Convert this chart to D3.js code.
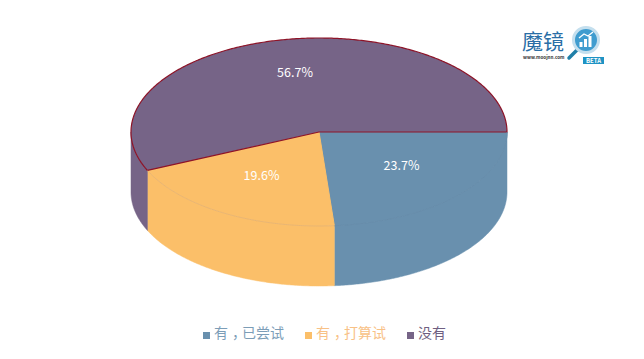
<!DOCTYPE html>
<html>
<head>
<meta charset="utf-8">
<script src="https://d3js.org/d3.v7.min.js"></script>
<style>
  html, body { margin: 0; padding: 0; background: #fff; }
  svg { display: block; }
  text { font-family: "Noto Sans CJK SC", "Noto Sans", sans-serif; }
</style>
</head>
<body>
<script>
// data, in drawing order from 3 o'clock going clockwise
var categories = ["有，已尝试", "有，打算试", "没有"];
var percents = [23.7, 19.6, 56.7];
var colours = ["#6990ae", "#fbbf69", "#766487"];
var legendColours = ["#7c9db7", "#f8c186", "#6f5f81"];
var seamColours = ["#648aa8", "#dcae78", "none"];

var width = 644, height = 359;
var cx = 319, cy = 132, rx = 188, ry = 94, depth = 60;

var svg = d3.select("body").append("svg")
  .attr("width", width)
  .attr("height", height);

var pie = d3.pie().sort(null).startAngle(Math.PI / 2).endAngle(Math.PI * 2.5);
var slices = pie(percents);

// flattened disc: angles are measured clockwise from north like d3.arc
var xAt = function(a) { return cx + rx * Math.sin(a); };
var yAt = function(a) { return cy - ry * Math.cos(a); };

var line = d3.line().x(function(d) { return d[0]; }).y(function(d) { return d[1]; });

// only the part of a slice under the front half of the rim has a wall
function wallPath(d) {
  var a0 = Math.max(d.startAngle, Math.PI / 2);
  var a1 = Math.min(d.endAngle, Math.PI * 1.5);
  if (a1 <= a0) return null;
  var steps = d3.range(a0, a1, 0.01).concat([a1]);
  var top = steps.map(function(a) { return [xAt(a), yAt(a)]; });
  var bottom = steps.slice().reverse().map(function(a) { return [xAt(a), yAt(a) + depth]; });
  return line(top.concat(bottom)) + "Z";
}

function topPath(d) {
  var steps = d3.range(d.startAngle, d.endAngle, 0.01).concat([d.endAngle]);
  var pts = [[cx, cy]].concat(steps.map(function(a) { return [xAt(a), yAt(a)]; }));
  return line(pts) + "Z";
}

function seamPath(d) {
  var a1 = Math.min(d.endAngle, Math.PI * 1.5);
  var steps = d3.range(d.startAngle, a1, 0.01).concat([a1]);
  return line(steps.map(function(a) { return [xAt(a), yAt(a)]; }));
}

var chart = svg.append("g").attr("class", "pie3d");

chart.selectAll("path.wall")
  .data(slices)
  .enter()
  .append("path")
    .attr("class", "wall")
    .attr("d", wallPath)
    .attr("fill", function(d, i) { return colours[i]; })
    .attr("stroke", function(d, i) { return colours[i]; })
    .attr("stroke-width", 0.5);

// blue and orange first so the purple outline sits on top of their edges
chart.selectAll("path.top")
  .data(slices)
  .enter()
  .append("path")
    .attr("class", "top")
    .attr("d", topPath)
    .attr("fill", function(d, i) { return colours[i]; })
    .attr("stroke", function(d, i) { return i === 2 ? "#8e1428" : colours[i]; })
    .attr("stroke-width", function(d, i) { return i === 2 ? 1.2 : 1; })
    .attr("stroke-linejoin", "round");

// faint seam where a slice top meets its wall
chart.selectAll("path.seam")
  .data(slices.slice(0, 2))
  .enter()
  .append("path")
    .attr("class", "seam")
    .attr("d", seamPath)
    .attr("fill", "none")
    .attr("stroke", function(d, i) { return seamColours[i]; })
    .attr("stroke-width", 0.6);

// value labels
var labelOffsets = [[82.5, 35], [-57.5, 45], [-24, -58]];
chart.selectAll("text.value")
  .data(slices)
  .enter()
  .append("text")
    .attr("class", "value")
    .attr("x", function(d, i) { return cx + labelOffsets[i][0]; })
    .attr("y", function(d, i) { return cy + labelOffsets[i][1]; })
    .attr("text-anchor", "middle")
    .attr("dominant-baseline", "middle")
    .attr("font-size", 12.5)
    .attr("fill", "#fff")
    .text(function(d) { return d.value.toFixed(1) + "%"; });

// legend
var legendX = [203, 305, 407];
var legend = svg.selectAll("g.legend")
  .data(categories)
  .enter()
  .append("g")
    .attr("class", "legend")
    .attr("transform", function(d, i) { return "translate(" + legendX[i] + ",335)"; });

legend.append("rect")
  .attr("x", 0)
  .attr("y", -3)
  .attr("width", 7)
  .attr("height", 7)
  .attr("fill", function(d, i) { return colours[i]; });

// the comma sits in the middle of its cell in the reference, hence the dx
legend.append("text")
  .attr("x", 11)
  .attr("y", -1)
  .attr("dx", function(d) { return d.indexOf("，") > 0 ? "0 4 -4" : null; })
  .attr("dominant-baseline", "middle")
  .attr("font-size", 14)
  .attr("fill", function(d, i) { return legendColours[i]; })
  .text(function(d) { return d; });

// logo, top right
var logo = svg.append("g").attr("class", "logo");

logo.append("text")
  .attr("x", 522)
  .attr("y", 49)
  .attr("font-size", 21)
  .attr("fill", "#2a6ea6")
  .text("魔镜");

logo.append("text")
  .attr("x", 523)
  .attr("y", 59)
  .attr("font-size", 4.6)
  .attr("font-weight", 700)
  .attr("fill", "#333")
  .text("www.moojnn.com");

logo.append("line")
  .attr("x1", 577).attr("y1", 50)
  .attr("x2", 569).attr("y2", 58)
  .attr("stroke", "#1f7fa8")
  .attr("stroke-width", 3.5)
  .attr("stroke-linecap", "round");

logo.append("circle")
  .attr("cx", 586).attr("cy", 40)
  .attr("r", 12.5)
  .attr("fill", "#3f9ccf")
  .attr("stroke", "#c4dfee")
  .attr("stroke-width", 3);

logo.selectAll("rect.iconbar")
  .data([5, 8, 11])
  .enter()
  .append("rect")
    .attr("class", "iconbar")
    .attr("x", function(d, i) { return 579.5 + i * 4.5; })
    .attr("y", function(d) { return 47 - d; })
    .attr("width", 3)
    .attr("height", function(d) { return d; })
    .attr("fill", "#fff");

logo.append("path")
  .attr("d", line([[579, 38], [584, 34], [588, 36], [593, 32]]))
  .attr("fill", "none")
  .attr("stroke", "#fff")
  .attr("stroke-width", 1.3);

logo.append("rect")
  .attr("x", 583).attr("y", 57)
  .attr("width", 21).attr("height", 7)
  .attr("fill", "#1f93c4");

logo.append("text")
  .attr("x", 593.5)
  .attr("y", 63)
  .attr("text-anchor", "middle")
  .attr("font-size", 6)
  .attr("font-weight", 700)
  .attr("fill", "#fff")
  .text("BETA");
</script>
</body>
</html>
